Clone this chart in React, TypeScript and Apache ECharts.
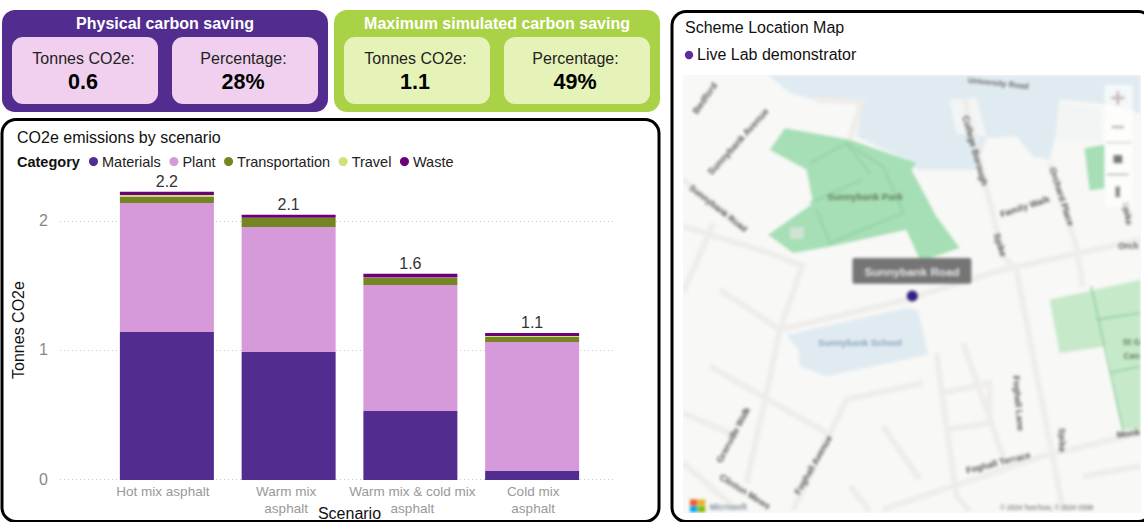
import React, { useEffect, useRef } from "react";
import * as echarts from "echarts";

const FONT = "Liberation Sans, Arial, sans-serif";

const categories = ["Hot mix asphalt", "Warm mix\nasphalt", "Warm mix & cold mix\nasphalt", "Cold mix\nasphalt"];
const materials = [1.148, 0.993, 0.535, 0.07];
const plant = [1.0, 0.968, 0.977, 1.0];
const transportation = [0.05, 0.07, 0.054, 0.04];
const travel = [0.012, 0.002, 0.003, 0.006];
const waste = [0.025, 0.023, 0.03, 0.024];
const totalLabels = ["2.2", "2.1", "1.6", "1.1"];
const gridMax = 2.31;
const barAxisMax = 2.318;
const labelPaddings = [[0, 8, 0, 0], [0, 5, 0, 0], [0, 0, 0, 4], [0, 0, 0, 2]];

const seriesColors = { Materials: "#522d8f", Plant: "#d699d9", Transportation: "#748521", Travel: "#cfe27a", Waste: "#6b0078" };

const kpiPanels = [
  { title: "Physical carbon saving", tonnes: "0.6", pct: "28%", outer: "#522d8f", inner: "#f0d0ee", x: 2 },
  { title: "Maximum simulated carbon saving", tonnes: "1.1", pct: "49%", outer: "#a9d247", inner: "#e6f3b8", x: 334 },
];

// Map: locations in map pixels
const demonstrator = [[229.3, 221]];

// Map background geometry, in 3x page units offset from (670, 0)
const blueAreas = [
  [[295,225],[1413,225],[1413,340],[1290,310],[1170,300],[1160,400],[1140,480],[1090,470],[1040,410],[950,415],[920,510],[740,510],[730,490],[560,410],[578,305],[440,300],[360,280]],
  [[350,1005],[710,925],[745,930],[775,1065],[470,1130],[390,1100],[385,1050]],
];
const whiteAreas = [
  [[840,300],[920,295],[950,410],[860,400]],
  [[1170,310],[1290,320],[1300,430],[1160,420]],
];
const parkAreas = [
  [[345,385],[540,420],[740,490],[725,510],[800,650],[870,745],[780,775],[780,800],[750,780],[710,690],[480,740],[370,760],[295,705],[430,610],[410,510],[300,450]],
  [[1245,445],[1305,435],[1305,565],[1260,572]],
];
const lightParkAreas = [
  [[1140,900],[1413,840],[1413,1290],[1360,1290],[1310,1040],[1170,1060]],
];
const parkPaths = [
  [[420,490],[530,430],[640,500],[700,640],[480,730],[440,630]],
  [[420,610],[575,540]],
  [[530,430],[600,520]],
  [[1265,860],[1360,1290]],
  [[1280,960],[1413,940]],
  [[1320,1120],[1413,1100]],
];
const roads = [
  [[39,680],[300,760],[400,800]],
  [[150,870],[330,990],[710,900],[1000,810],[1413,720]],
  [[400,790],[330,990],[290,1180],[230,1450]],
  [[120,1100],[470,1300]],
  [[39,1240],[200,1310]],
  [[530,1200],[760,1150]],
  [[530,1200],[370,1530]],
  [[800,1060],[860,1490],[900,1535]],
  [[880,1030],[1000,1370]],
  [[1040,810],[1180,1530]],
  [[640,1530],[1120,1370],[1413,1300]],
  [[1240,1430],[1413,1400]],
  [[885,300],[1000,770],[1040,810]],
  [[1140,490],[1220,740],[1240,860]],
  [[39,540],[220,680]],
  [[39,880],[130,670]],
  [[540,420],[575,305],[440,300]],
  [[820,1180],[960,1150],[960,1270],[830,1290]],
  [[640,1280],[750,1440]],
  [[540,1460],[600,1535]],
  [[39,1390],[200,1530]],
];
const mapLabels = [
  { t: "Bedford", x: 105, y: 295, r: -55, s: 28, c: "#555" },
  { t: "Sunnybank Avenue", x: 205, y: 425, r: -48, s: 28, c: "#555" },
  { t: "Sunnybank Road", x: 145, y: 625, r: 38, s: 26, c: "#555" },
  { t: "Sunnybank Park", x: 585, y: 590, r: 0, s: 29, c: "#5f7c52" },
  { t: "University Road", x: 985, y: 250, r: 6, s: 24, c: "#666" },
  { t: "College Borough", x: 915, y: 452, r: 74, s: 27, c: "#555" },
  { t: "Spike", x: 990, y: 735, r: 72, s: 27, c: "#555" },
  { t: "Family Walk", x: 1065, y: 620, r: -18, s: 27, c: "#555" },
  { t: "Orchard Place", x: 1175, y: 590, r: 72, s: 27, c: "#555" },
  { t: "Spike", x: 1372, y: 640, r: 80, s: 27, c: "#555" },
  { t: "Orch", x: 1375, y: 737, r: 0, s: 26, c: "#555" },
  { t: "Sunnybank School", x: 570, y: 1030, r: 0, s: 28, c: "#8aa4bd" },
  { t: "St G", x: 1385, y: 1025, r: 0, s: 26, c: "#5f7c52" },
  { t: "Cen", x: 1385, y: 1068, r: 0, s: 26, c: "#5f7c52" },
  { t: "Foghall Lane", x: 1045, y: 1210, r: 85, s: 27, c: "#555" },
  { t: "Spike", x: 1175, y: 1320, r: 90, s: 27, c: "#555" },
  { t: "Foghall Terrace", x: 985, y: 1388, r: -14, s: 27, c: "#555" },
  { t: "Monk", x: 1375, y: 1300, r: -8, s: 27, c: "#555" },
  { t: "Foghall Avenue", x: 430, y: 1395, r: -60, s: 27, c: "#555" },
  { t: "Grenville Walk", x: 190, y: 1305, r: -62, s: 27, c: "#555" },
  { t: "Clinton Mews", x: 225, y: 1475, r: 32, s: 27, c: "#555" },
  { t: "Microsoft", x: 175, y: 1522, r: 0, s: 25, c: "#7f8fa0" },
  { t: "© 2024 TomTom, © 2024 OSM", x: 1130, y: 1522, r: 0, s: 20, c: "#888" },
];
const msSquares = [
  { x: 60, y: 1500, c: "#f25022" },
  { x: 84, y: 1500, c: "#e8b020" },
  { x: 60, y: 1520, c: "#00a4ef" },
  { x: 84, y: 1520, c: "#7fba00" },
];

function txt(text: string, x: number, y: number, size: number, color: string, bold = false, align = "center") {
  return {
    type: "text",
    x,
    y,
    style: { text, fontSize: size, fontFamily: FONT, fontWeight: bold ? "bold" : "normal", fill: color, align, verticalAlign: "middle" },
  };
}

function cardGraphics() {
  const els: any[] = [];
  els.push({ type: "rect", shape: { x: 2, y: 119.5, width: 657, height: 402, r: 14 }, style: { fill: "#fff", stroke: "#000", lineWidth: 3 } });
  els.push({ type: "rect", shape: { x: 672, y: 11.5, width: 480, height: 510, r: 14 }, style: { fill: "#fff", stroke: "#000", lineWidth: 3 } });
  for (const p of kpiPanels) {
    els.push({ type: "rect", shape: { x: p.x, y: 10, width: 326, height: 102, r: 13 }, style: { fill: p.outer } });
    els.push(txt(p.title, p.x + 163, 23, 16, "#fff", true));
    for (const [i, label, value] of [[0, "Tonnes CO2e:", p.tonnes], [1, "Percentage:", p.pct]] as any[]) {
      const bx = p.x + 10 + i * 160;
      els.push({ type: "rect", shape: { x: bx, y: 37, width: 146, height: 67, r: 11 }, style: { fill: p.inner } });
      els.push(txt(label, bx + 71.5, 58.5, 16, "#222"));
      els.push(txt(value, bx + 71, 82, 21.5, "#000", true));
    }
  }
  els.push(txt("Category", 17, 162, 14.5, "#111", true, "left"));
  els.push(txt("CO2e emissions by scenario", 17, 137, 16, "#111", false, "left"));
  els.push(txt("Scheme Location Map", 685, 27.5, 16, "#111", false, "left"));
  els.push({ type: "circle", shape: { cx: 689, cy: 55, r: 4.2 }, style: { fill: "#5b2d9e" } });
  els.push(txt("Live Lab demonstrator", 697, 54.5, 16, "#111", false, "left"));
  return els;
}

function mapGraphics() {
  const ch: any[] = [];
  const poly = (pts: number[][], fill: string) => ({ type: "polygon", shape: { points: pts }, style: { fill } });
  for (const a of blueAreas) ch.push(poly(a, "#e0ebf1"));
  for (const a of whiteAreas) ch.push(poly(a, "#f3f5f4"));
  for (const a of parkAreas) ch.push(poly(a, "#a6deb5"));
  for (const a of lightParkAreas) ch.push(poly(a, "#c6e9c9"));
  for (const r of parkPaths) ch.push({ type: "polyline", shape: { points: r }, style: { stroke: "#93d0a3", lineWidth: 5, fill: "none" } });
  for (const r of roads) ch.push({ type: "polyline", shape: { points: r }, style: { stroke: "#eeedea", lineWidth: 18, fill: "none" } });
  ch.push({ type: "rect", shape: { x: 360, y: 682, width: 42, height: 36 }, style: { fill: "#cfe3d4" } });
  for (const l of mapLabels) {
    ch.push({
      type: "text",
      x: l.x,
      y: l.y,
      rotation: (-l.r * Math.PI) / 180,
      style: { text: l.t, fontSize: l.s, fontFamily: FONT, fontWeight: "bold", fill: l.c, align: "center", verticalAlign: "middle" },
    });
  }
  ch.push({ type: "rect", shape: { x: 548, y: 775, width: 357, height: 77, r: 6 }, style: { fill: "#757575" } });
  ch.push({
    type: "text",
    x: 726,
    y: 815,
    style: { text: "Sunnybank Road", fontSize: 35, fontFamily: FONT, fontWeight: "bold", fill: "#e8e8e8", align: "center", verticalAlign: "middle" },
  });
  ch.push({ type: "rect", shape: { x: 1305, y: 255, width: 85, height: 365 }, style: { fill: "#fff", opacity: 0.65 } });
  ch.push({ type: "rect", shape: { x: 1325, y: 290, width: 40, height: 8 }, style: { fill: "#c9b5b5" } });
  ch.push({ type: "rect", shape: { x: 1341, y: 274, width: 8, height: 40 }, style: { fill: "#c9b5b5" } });
  ch.push({ type: "rect", shape: { x: 1327, y: 378, width: 36, height: 7 }, style: { fill: "#b5b5b5" } });
  ch.push({ type: "rect", shape: { x: 1310, y: 426, width: 75, height: 4 }, style: { fill: "#ccc" } });
  ch.push({ type: "rect", shape: { x: 1332, y: 466, width: 26, height: 24 }, style: { fill: "#777" } });
  ch.push({ type: "rect", shape: { x: 1312, y: 522, width: 65, height: 4 }, style: { fill: "#aaa" } });
  ch.push({ type: "rect", shape: { x: 1338, y: 560, width: 13, height: 32 }, style: { fill: "#888" } });
  for (const s of msSquares) ch.push({ type: "rect", shape: { x: s.x, y: s.y, width: 22, height: 18 }, style: { fill: s.c } });
  return [{ type: "group", x: -13, y: -75, scaleX: 1 / 3, scaleY: 1 / 3, children: ch }];
}

export default function App() {
  const mainRef = useRef<HTMLDivElement>(null);
  const mapRef = useRef<HTMLDivElement>(null);

  useEffect(() => {
    document.body.style.margin = "0";
    const chart = echarts.init(mainRef.current!, undefined, { renderer: "svg" });
    const mapChart = echarts.init(mapRef.current!, undefined, { renderer: "svg" });

    const barSeries = (name: keyof typeof seriesColors, data: number[], extra: any = {}) => ({
      name,
      type: "bar",
      stack: "total",
      xAxisIndex: 1,
      yAxisIndex: 1,
      barWidth: 94,
      data,
      itemStyle: { color: seriesColors[name] },
      ...extra,
    });

    chart.setOption({
      animation: false,
      textStyle: { fontFamily: FONT },
      legend: {
        left: 89,
        top: 154,
        icon: "circle",
        itemWidth: 9,
        itemHeight: 9,
        itemGap: 8.6,
        padding: 0,
        textStyle: { fontSize: 14.5, color: "#222", fontFamily: FONT, padding: [0, 0, 0, -1] },
        data: Object.keys(seriesColors),
      },
      grid: [
        { left: 60, width: 553, top: 181, height: 298, outerBoundsMode: "none" },
        { left: 106, width: 487, top: 181, height: 299, outerBoundsMode: "none" },
      ],
      xAxis: [
        { gridIndex: 0, type: "category", data: categories, show: false },
        {
          gridIndex: 1,
          type: "category",
          data: categories.map((value, i) => ({ value, textStyle: { padding: labelPaddings[i] } })),
          name: "Scenario",
          nameLocation: "middle",
          nameGap: 25,
          nameMoveOverlap: false,
          nameTextStyle: { fontSize: 16, color: "#111", fontFamily: FONT },
          axisLine: { show: false },
          axisTick: { show: false },
          axisLabel: { color: "#999", fontSize: 13.5, lineHeight: 17, margin: 3, interval: 0, fontFamily: FONT },
        },
      ],
      yAxis: [
        {
          gridIndex: 0,
          type: "value",
          min: 0,
          max: gridMax,
          interval: 1,
          name: "Tonnes CO2e",
          nameLocation: "middle",
          nameGap: 34,
          nameMoveOverlap: false,
          nameTextStyle: { fontSize: 16, color: "#111", fontFamily: FONT },
          axisLine: { show: false },
          axisTick: { show: false },
          axisLabel: { color: "#888", fontSize: 16, margin: 12, showMaxLabel: false, fontFamily: FONT },
          splitLine: { show: true, showMaxLine: false, lineStyle: { color: "#c8c8c8", type: [1, 3], width: 1 } },
        },
        { gridIndex: 1, type: "value", min: 0, max: barAxisMax, show: false },
      ],
      series: [
        { type: "bar", xAxisIndex: 0, yAxisIndex: 0, data: [], silent: true },
        barSeries("Materials", materials),
        barSeries("Plant", plant),
        barSeries("Transportation", transportation),
        barSeries("Travel", travel),
        barSeries("Waste", waste, {
          label: {
            show: true,
            position: "top",
            distance: 2,
            fontSize: 16,
            color: "#333",
            fontFamily: FONT,
            formatter: (p: any) => totalLabels[p.dataIndex],
          },
        }),
      ],
      graphic: { elements: cardGraphics().map((e) => ({ ...e, z: -10 })) },
    });

    mapChart.setOption({
      animation: false,
      grid: { left: 0, right: 0, top: 0, bottom: 0, outerBoundsMode: "none" },
      xAxis: { type: "value", min: 0, max: 458, show: false },
      yAxis: { type: "value", min: 0, max: 438, inverse: true, show: false },
      series: [
        {
          type: "scatter",
          name: "Live Lab demonstrator",
          data: demonstrator,
          symbolSize: 11,
          itemStyle: { color: "#36207f", opacity: 1 },
          z: 20,
        },
      ],
      graphic: { elements: mapGraphics() },
    });

    return () => {
      chart.dispose();
      mapChart.dispose();
    };
  }, []);

  return (
    <div style={{ position: "absolute", left: 0, top: 0, width: 1144, height: 522, overflow: "hidden", background: "#fff" }}>
      <div ref={mainRef} style={{ position: "absolute", left: 0, top: 0, width: 1144, height: 522 }} />
      <div style={{ position: "absolute", left: 683, top: 75, width: 458, height: 438, overflow: "hidden", background: "#f8f8f6" }}>
        <div ref={mapRef} style={{ position: "absolute", left: 0, top: 0, width: 458, height: 438, filter: "blur(1.5px)" }} />
      </div>
    </div>
  );
}
